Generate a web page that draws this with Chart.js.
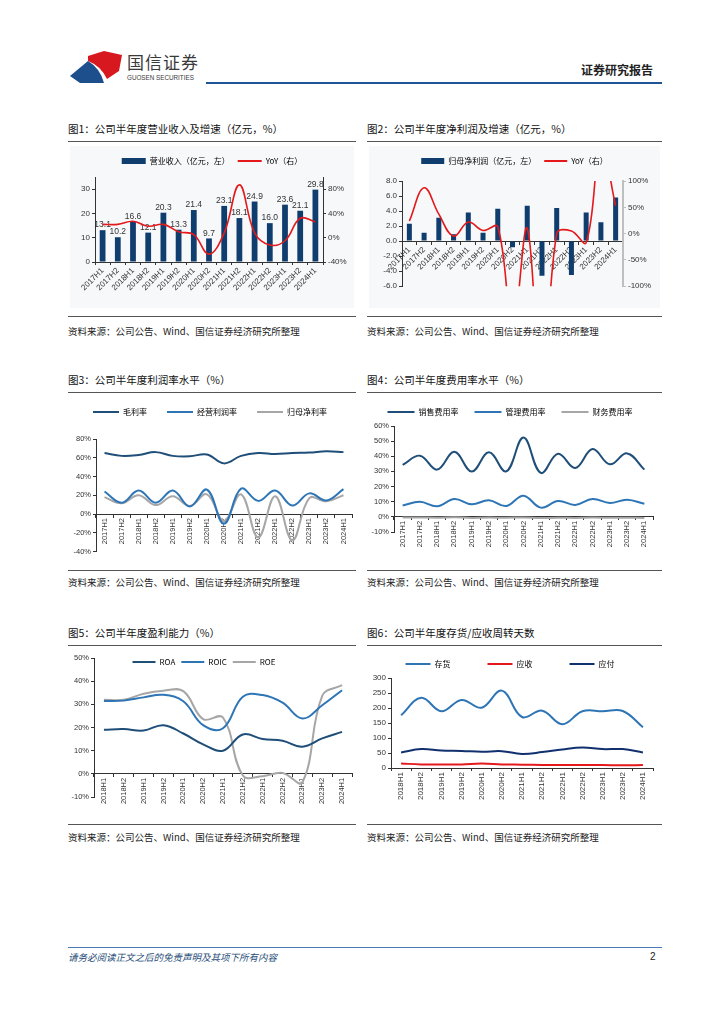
<!DOCTYPE html>
<html>
<head>
<meta charset="utf-8">
<script src="https://cdn.jsdelivr.net/npm/chart.js@4.4.1/dist/chart.umd.min.js"></script>
<style>
  body { margin: 0; width: 724px; height: 1024px; position: relative; background: #fff;
         font-family: "Noto Sans CJK SC", "Liberation Sans", sans-serif; color: #222; overflow: hidden; }
  .abs { position: absolute; }
  .title { font-size: 10.5px; line-height: 14px; height: 14px; color: #111; white-space: nowrap; }
  .src { font-size: 9.5px; line-height: 14px; height: 14px; color: #222; white-space: nowrap; }
  .rule { height: 0; border-top: 1.5px solid #555; }
  .panel { background: #f7f8fa; }
  canvas { position: absolute; }
</style>
</head>
<body>

<!-- header -->
<svg class="abs" style="left:66px;top:48px" width="62" height="38" viewBox="66 48 62 38">
  <path d="M88,56 L104,51 L122,55 L119,71 L107,79 Q101,66 88,61 Z" fill="#d7191f"/>
  <path d="M70,76 L88,61 Q100,68 104,83 L80,83 Z" fill="#1d4f8c"/>
</svg>
<div class="abs" style="left:127px;top:52px;font-size:17px;line-height:20px;color:#3a3a3a;letter-spacing:1px">国信证券</div>
<div class="abs" style="left:127px;top:74px;font-size:6.3px;line-height:8px;color:#3a3a3a;font-family:'Liberation Sans'">GUOSEN SECURITIES</div>
<div class="abs" style="left:581px;top:62px;font-size:12px;line-height:16px;font-weight:bold;color:#222">证券研究报告</div>
<div class="abs" style="left:206px;top:82px;width:456px;height:2px;background:#1f5597"></div>

<!-- row 1 -->
<div class="abs title" style="left:68px;top:122px">图1：公司半年度营业收入及增速（亿元，%）</div>
<div class="abs title" style="left:367px;top:122px">图2：公司半年度净利润及增速（亿元，%）</div>
<div class="abs rule" style="left:68px;top:141px;width:288px"></div>
<div class="abs rule" style="left:367px;top:141px;width:295px"></div>
<div class="abs panel" style="left:70px;top:146px;width:284px;height:162px"></div>
<div class="abs panel" style="left:369px;top:146px;width:291px;height:162px"></div>
<canvas id="c1" width="284" height="152" style="left:70px;top:149px"></canvas>
<canvas id="c2" width="291" height="144" style="left:369px;top:149px"></canvas>
<div class="abs rule" style="left:68px;top:316px;width:288px"></div>
<div class="abs rule" style="left:367px;top:316px;width:295px"></div>
<div class="abs src" style="left:68px;top:324px">资料来源：公司公告、Wind、国信证券经济研究所整理</div>
<div class="abs src" style="left:367px;top:324px">资料来源：公司公告、Wind、国信证券经济研究所整理</div>

<!-- row 2 -->
<div class="abs title" style="left:68px;top:373px">图3：公司半年度利润率水平（%）</div>
<div class="abs title" style="left:367px;top:373px">图4：公司半年度费用率水平（%）</div>
<div class="abs rule" style="left:68px;top:392px;width:288px"></div>
<div class="abs rule" style="left:367px;top:392px;width:295px"></div>
<canvas id="c3" width="288" height="170" style="left:68px;top:388px"></canvas>
<canvas id="c4" width="290" height="158" style="left:367px;top:392px"></canvas>
<div class="abs rule" style="left:68px;top:570px;width:288px"></div>
<div class="abs rule" style="left:367px;top:570px;width:295px"></div>
<div class="abs src" style="left:68px;top:575px">资料来源：公司公告、Wind、国信证券经济研究所整理</div>
<div class="abs src" style="left:367px;top:575px">资料来源：公司公告、Wind、国信证券经济研究所整理</div>

<!-- row 3 -->
<div class="abs title" style="left:68px;top:626px">图5：公司半年度盈利能力（%）</div>
<div class="abs title" style="left:367px;top:626px">图6：公司半年度存货/应收周转天数</div>
<div class="abs rule" style="left:68px;top:645px;width:288px"></div>
<div class="abs rule" style="left:367px;top:645px;width:295px"></div>
<canvas id="c5" width="288" height="173" style="left:68px;top:634px"></canvas>
<canvas id="c6" width="290" height="181" style="left:367px;top:623px"></canvas>
<div class="abs rule" style="left:68px;top:824px;width:288px"></div>
<div class="abs rule" style="left:367px;top:824px;width:295px"></div>
<div class="abs src" style="left:68px;top:830px">资料来源：公司公告、Wind、国信证券经济研究所整理</div>
<div class="abs src" style="left:367px;top:830px">资料来源：公司公告、Wind、国信证券经济研究所整理</div>

<!-- footer -->
<div class="abs" style="left:68px;top:947px;width:594px;height:1px;background:#4a7ab5"></div>
<div class="abs" style="left:68px;top:950px;font-size:9.5px;line-height:14px;font-style:italic;color:#1f4e79">请务必阅读正文之后的免责声明及其项下所有内容</div>
<div class="abs" style="left:650px;top:950px;font-size:10px;line-height:14px;color:#222;font-family:'Liberation Sans'">2</div>

<script>
// chart data
const halfYears = ['2017H1', '2017H2', '2018H1', '2018H2', '2019H1', '2019H2', '2020H1', '2020H2',
                   '2021H1', '2021H2', '2022H1', '2022H2', '2023H1', '2023H2', '2024H1'];
const revenue = [13.1, 10.2, 16.6, 12.1, 20.3, 13.3, 21.4, 9.7, 23.1, 18.1, 24.9, 16.0, 23.6, 21.1, 29.8];
const revenueYoy = [22, 22, 27, 19, 22, 10, 5, -27, 8, 87, 8, -12, -5, 32, 26];
const netProfit = [2.3, 1.1, 3.1, 0.9, 3.8, 1.1, 4.3, -0.8, 4.7, -4.6, 4.4, -4.5, 3.8, 2.5, 5.8];
const netProfitYoy = [24, 87, 37, -5, 22, 6, 13, -180, 10, -320, 0, 5, -17, 170, 53];

const grossMargin = [65, 62, 63, 66, 62, 61.5, 63.5, 54, 62, 65, 64, 65, 65.5, 67, 66];
const operatingMargin = [24, 12, 25, 12, 25, 8, 26, -10.5, 27, 14, 25, 9, 22, 14.5, 26.5];
const netMargin = [18, 11.5, 20, 9.5, 19, 8.5, 21, -7.5, 21, -25, 19, -28, 17, 13.5, 20];

const sellingRatio = [34.3, 40.4, 31.2, 43, 29.9, 42.6, 30, 52.4, 29, 41.7, 32.3, 44.8, 34.7, 41.9, 31.2];
const adminRatio = [7.5, 10, 7, 11.8, 8.3, 11, 7.2, 14, 6.1, 10.5, 7.9, 11.8, 9.2, 11.3, 8.6];
const financeRatio = [-0.5, -0.4, -0.6, -0.3, -0.7, -0.5, -0.6, -0.4, -0.8, -0.6, -0.7, -0.5, -0.6, -0.6, -0.7];

const halfYears18 = ['2018H1', '2018H2', '2019H1', '2019H2', '2020H1', '2020H2', '2021H1',
                     '2021H2', '2022H1', '2022H2', '2023H1', '2023H2', '2024H1'];
const roa = [19.0, 19.3, 18.7, 21.0, 17.4, 12.7, 10.0, 17.0, 15.0, 14.3, 11.7, 15.3, 18.1];
const roic = [31.4, 31.6, 33.0, 34.1, 31.3, 21.0, 19.7, 33.3, 34.0, 30.7, 23.9, 29.6, 36.1];
const roe = [32.0, 32.0, 34.6, 35.9, 35.7, 23.6, 24.3, -0.7, -1.0, 0.4, -3.6, 33.6, 38.3];

const inventoryDays = [176, 234, 189, 227, 201, 258, 170, 191, 146, 189, 189, 190, 136];
const receivableDays = [15, 12, 12, 12, 15, 12, 11, 10, 10, 10, 10, 9, 10];
const payableDays = [52, 63, 58, 57, 54, 56, 47, 53, 62, 68, 63, 63, 52];

const NAVY = '#0f3d6e';
const DARK = '#1f4e79';
const MID = '#2e75b6';
const GRAY = '#a6a6a6';
const RED = '#e3191c';
const AXIS = '#333';

Chart.defaults.animation = false;
Chart.defaults.responsive = false;
Chart.defaults.font.family = '"Liberation Sans", "Noto Sans CJK SC", sans-serif';
Chart.defaults.font.size = 8;
Chart.defaults.color = '#333';
Chart.defaults.plugins.tooltip.enabled = false;

const pct = v => v + '%';

// value axis with outward ticks and a fixed width
function valueAxis(min, max, step, fmt, width, size, extra) {
  return Object.assign({
    min: min, max: max,
    grid: { display: true, drawOnChartArea: false, tickLength: 3, color: AXIS },
    border: { display: true, color: AXIS },
    ticks: { stepSize: step, callback: fmt, padding: 2, font: { size: size } },
    afterFit: s => { s.width = width; }
  }, extra || {});
}

function categoryAxis(rotation, size, extra) {
  return Object.assign({
    type: 'category',
    offset: true,
    grid: { display: true, drawOnChartArea: false, offset: true, tickLength: 3, color: AXIS },
    border: { display: true, color: AXIS },
    ticks: { autoSkip: false, minRotation: rotation, maxRotation: rotation, padding: 1, font: { size: size } }
  }, extra || {});
}

// empty top axis, only used to push the plot down below the legend
function gapAxis(h) {
  return {
    type: 'linear', position: 'top', display: true,
    grid: { display: false }, border: { display: false }, ticks: { display: false },
    afterFit: s => { s.height = h; }
  };
}

// moves the legend after layout, so it can sit inside the plot (图5)
function shiftLegend(dx, dy) {
  return {
    id: 'shiftLegend',
    afterLayout(chart) {
      const lg = chart.legend;
      lg.left += dx; lg.right += dx;
      lg.top += dy; lg.bottom += dy;
    }
  };
}

function legendOpts(styles, swatch, padding, extra) {
  return Object.assign({
    position: 'top',
    labels: {
      usePointStyle: true, pointStyleWidth: swatch, boxHeight: 6, padding: padding,
      font: { family: '"Noto Sans CJK SC", "Liberation Sans"', size: 8 }, color: '#333',
      generateLabels(chart) {
        return chart.data.datasets.map((ds, i) => ({
          text: ds.label, datasetIndex: i, hidden: false,
          fillStyle: styles[i] === 'rect' ? ds.backgroundColor : ds.borderColor,
          strokeStyle: ds.borderColor || ds.backgroundColor,
          lineWidth: styles[i] === 'line' ? 2 : 0,
          pointStyle: styles[i]
        }));
      }
    }
  }, extra || {});
}

// value labels above the revenue bars
const barValueLabels = {
  id: 'barValueLabels',
  afterDatasetDraw(chart, args) {
    if (args.index !== 0) return;
    const ctx = chart.ctx;
    const values = chart.data.datasets[0].data;
    ctx.save();
    ctx.font = '8.5px "Liberation Sans"';
    ctx.fillStyle = '#333';
    ctx.textAlign = 'center';
    ctx.textBaseline = 'bottom';
    args.meta.data.forEach((bar, i) => {
      ctx.fillText(values[i].toFixed(1), bar.x, bar.y - 1);
    });
    ctx.restore();
  }
};

// 图1
new Chart(document.getElementById('c1'), {
  type: 'bar',
  data: {
    labels: halfYears,
    datasets: [
      { type: 'bar', label: '营业收入（亿元，左）', data: revenue, backgroundColor: NAVY,
        barPercentage: 0.38, categoryPercentage: 1, xAxisID: 'x', yAxisID: 'y', order: 2 },
      { type: 'line', label: 'YoY（右）', data: revenueYoy, borderColor: RED, borderWidth: 1.6,
        tension: 0.4, pointRadius: 0, xAxisID: 'x', yAxisID: 'y1', order: 1 }
    ]
  },
  options: {
    layout: { padding: { top: 0, left: 0, right: 0, bottom: 5 } },
    plugins: { legend: legendOpts(['rect', 'line'], 24, 8) },
    scales: {
      x: categoryAxis(45, 8, { afterFit: s => { s.height = 34; } }),
      gap: gapAxis(2),
      y: valueAxis(0, 35, 5, v => v, 25, 8),
      y1: valueAxis(-40, 100, 20, pct, 31, 8, { position: 'right' })
    }
  },
  plugins: [barValueLabels]
});

// 图2
new Chart(document.getElementById('c2'), {
  type: 'bar',
  data: {
    labels: halfYears,
    datasets: [
      { type: 'bar', label: '归母净利润（亿元，左）', data: netProfit, backgroundColor: NAVY,
        barPercentage: 0.34, categoryPercentage: 1, xAxisID: 'x', yAxisID: 'y', order: 2 },
      { type: 'line', label: 'YoY（右）', data: netProfitYoy, borderColor: RED, borderWidth: 1.6,
        tension: 0.4, pointRadius: 0, xAxisID: 'x', yAxisID: 'y1', order: 1 }
    ]
  },
  options: {
    layout: { padding: 0 },
    plugins: { legend: legendOpts(['rect', 'line'], 23, 8) },
    scales: {
      x: categoryAxis(45, 8, { position: { y: 0 } }),
      gap: gapAxis(6),
      y: valueAxis(-6, 8, 2, v => v.toFixed(1), 33, 8),
      y1: valueAxis(-100, 100, 50, pct, 37, 8, {
        position: 'right',
        border: { display: true, color: '#bfbfbf', width: 2 },
        grid: { display: true, drawOnChartArea: false, tickLength: 3, color: '#bfbfbf' }
      })
    }
  }
});

function lineSet(label, data, color, width) {
  return { label: label, data: data, borderColor: color, backgroundColor: color, borderWidth: width,
           tension: 0.4, pointRadius: 0, xAxisID: 'x', yAxisID: 'y' };
}

// 图3
new Chart(document.getElementById('c3'), {
  type: 'line',
  data: {
    labels: halfYears,
    datasets: [
      lineSet('毛利率', grossMargin, DARK, 2),
      lineSet('经营利润率', operatingMargin, MID, 2),
      lineSet('归母净利率', netMargin, GRAY, 2)
    ]
  },
  options: {
    layout: { padding: { top: 0, left: 0, right: 4, bottom: 0 } },
    plugins: { legend: legendOpts(['line', 'line', 'line'], 26, 20) },
    scales: {
      x: categoryAxis(90, 7.5, { position: { y: 0 } }),
      gap: gapAxis(13),
      y: valueAxis(-40, 80, 20, pct, 28, 7.5)
    }
  }
});

// 图4
new Chart(document.getElementById('c4'), {
  type: 'line',
  data: {
    labels: halfYears,
    datasets: [
      lineSet('销售费用率', sellingRatio, DARK, 2),
      lineSet('管理费用率', adminRatio, MID, 2),
      lineSet('财务费用率', financeRatio, GRAY, 2)
    ]
  },
  options: {
    layout: { padding: { top: 0, left: 0, right: 4, bottom: 18 } },
    plugins: { legend: legendOpts(['line', 'line', 'line'], 27, 16) },
    scales: {
      x: categoryAxis(90, 7.5, { position: { y: 0 } }),
      y: valueAxis(-10, 60, 10, pct, 27, 7.5)
    }
  }
});

// 图5
new Chart(document.getElementById('c5'), {
  type: 'line',
  data: {
    labels: halfYears18,
    datasets: [
      lineSet('ROA', roa, DARK, 2),
      lineSet('ROIC', roic, MID, 2),
      lineSet('ROE', roe, GRAY, 2)
    ]
  },
  options: {
    layout: { padding: { top: 0, left: 0, right: 4, bottom: 10 } },
    plugins: { legend: legendOpts(['line', 'line', 'line'], 23, 6) },
    scales: {
      x: categoryAxis(90, 7.5, { position: { y: 0 } }),
      y: valueAxis(-10, 50, 10, pct, 26, 7.5)
    }
  },
  plugins: [shiftLegend(-6, 18)]
});

// 图6
new Chart(document.getElementById('c6'), {
  type: 'line',
  data: {
    labels: halfYears18,
    datasets: [
      lineSet('存货', inventoryDays, MID, 2),
      lineSet('应收', receivableDays, RED, 2),
      lineSet('应付', payableDays, '#10306e', 2)
    ]
  },
  options: {
    layout: { padding: { top: 0, left: 0, right: 4, bottom: 0 } },
    plugins: { legend: legendOpts(['line', 'line', 'line'], 25, 37) },
    scales: {
      x: categoryAxis(90, 8, { afterFit: s => { s.height = 36; } }),
      y: valueAxis(0, 300, 50, v => v, 24, 8)
    }
  }
});
</script>
</body>
</html>
